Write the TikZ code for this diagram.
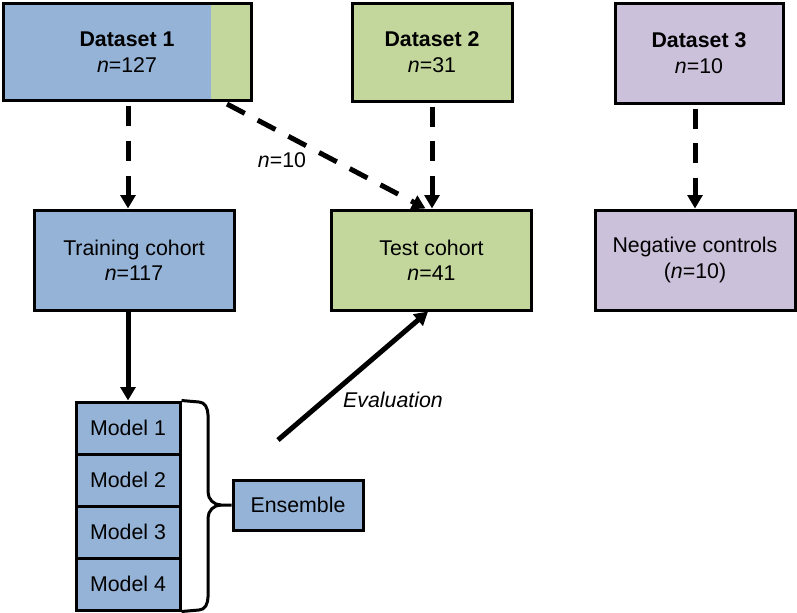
\documentclass[tikz,border=0pt]{standalone}
\usepackage{fontspec}
\setmainfont{Liberation Sans}
\usetikzlibrary{arrows.meta}
\definecolor{cohortblue}{HTML}{95B3D7}
\definecolor{cohortgreen}{HTML}{C3D69B}
\definecolor{cohortpurple}{HTML}{CCC1DA}
\begin{document}
\begin{tikzpicture}[x=0.75pt,y=-0.75pt,
  box/.style={draw=black,line width=2.25pt,align=center,inner sep=0pt,
    font=\fontsize{16}{19}\selectfont,minimum width=150pt,minimum height=75pt},
  modelbox/.style={box,fill=cohortblue,minimum width=78pt,minimum height=39pt},
  flow/.style={line width=3.75pt,-{Triangle[width=11pt,length=10pt]}},
  dashflow/.style={flow,dash pattern=on 15pt off 11pt,dash phase=-3pt},
  lbl/.style={font=\fontsize{16}{19}\selectfont}]
\useasboundingbox (0,0) rectangle (797,612);
\node[box,fill=cohortblue,minimum width=186pt,minimum height=73pt,
  path picture={\fill[cohortgreen] ([xshift=-30pt]path picture bounding box.north east)
    rectangle (path picture bounding box.south east);}]
  (d1) at (127,52) {\textbf{Dataset 1}\\\textit{n}=127};
\node[box,fill=cohortgreen,minimum width=120pt,minimum height=73.5pt]
  (d2) at (432,52) {\textbf{Dataset 2}\\\textit{n}=31};
\node[box,fill=cohortpurple,minimum width=126pt,minimum height=75pt]
  (d3) at (699,53) {\textbf{Dataset 3}\\\textit{n}=10};
\node[box,fill=cohortblue] (train) at (134,260) {Training cohort\\\textit{n}=117};
\node[box,fill=cohortgreen] (test) at (431.5,260) {Test cohort\\\textit{n}=41};
\node[box,fill=cohortpurple] (neg) at (695,260) {Negative controls\\(\textit{n}=10)};
\node[modelbox] (m1) at (128,428) {Model 1};
\node[modelbox] (m2) at (128,480) {Model 2};
\node[modelbox] (m3) at (128,532) {Model 3};
\node[modelbox] (m4) at (128,584) {Model 4};
\node[box,fill=cohortblue,minimum width=97.5pt,minimum height=37.5pt]
  (ens) at (298,505) {Ensemble};
\draw[dashflow] (m1.north |- d1.south) -- (m1.north |- train.north);
\draw[dashflow] ([xshift=-21.75pt]d1.south east) -- ([xshift=-4.5pt]test.north);
\draw[dashflow] (d2.south) -- (d2.south |- test.north);
\draw[dashflow] (neg.north |- d3.south) -- (neg.north);
\node[lbl] (nten) at (282,160) {\textit{n}=10};
\draw[flow] (m1.north |- train.south) -- (m1.north);
\coordinate (evalstart) at (278,440);
\draw[flow] (evalstart) -- ([xshift=-2.6pt]test.south);
\node[lbl] (evallbl) at (393,400) {\textit{Evaluation}};
\draw[line width=2.25pt] (m1.north east) -- (199,402) to[out=0,in=90] (208,415)
  -- (208,492) to[out=-90,in=180] (221,505) -- (ens.west);
\draw[line width=2.25pt] (221,505) to[out=180,in=90] (208,518)
  -- (208,597) to[out=-90,in=0] (199,610) -- (m4.south east);
\end{tikzpicture}
\end{document}
